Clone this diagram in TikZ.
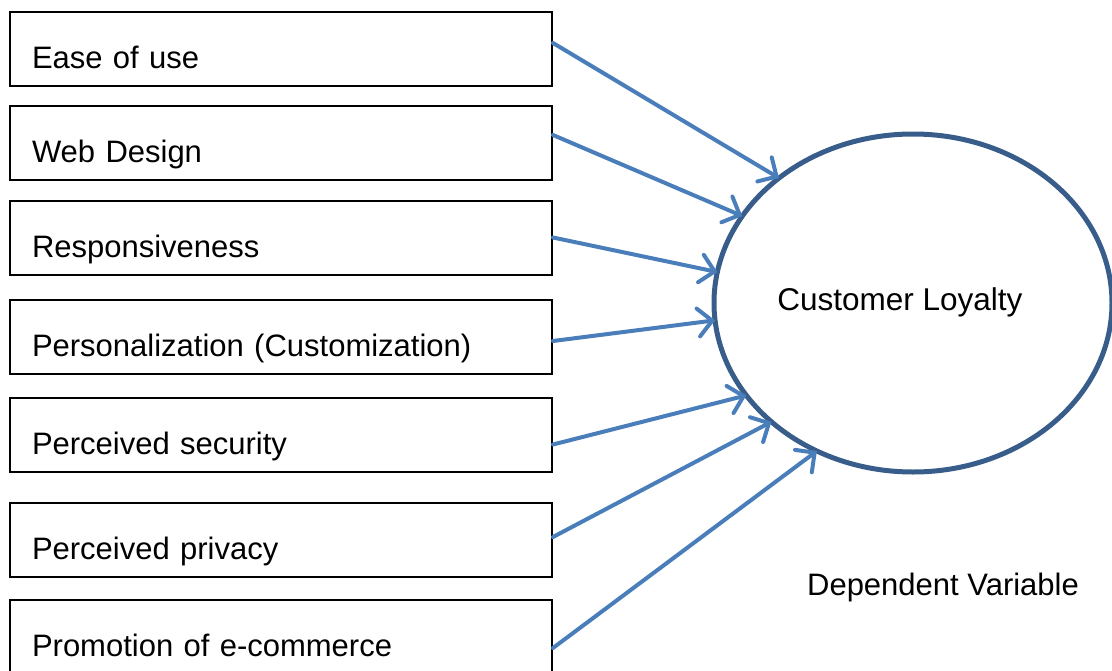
\documentclass[tikz,border=0pt]{standalone}
\usepackage{fontspec}
\setmainfont{Liberation Sans}
\usetikzlibrary{arrows.meta,shapes.geometric}
\definecolor{ringblue}{HTML}{385D8A}
\definecolor{arrowblue}{HTML}{4A7EBB}
\tikzset{
	factor/.style = {draw, line width = 2pt, rectangle, minimum width = 542pt, minimum height = 74pt,
		inner xsep = 22pt, inner ysep = 0pt, text width = 498pt, align = left,
		text height = 42pt, text depth = 3pt, font = \fontsize{31}{36}\selectfont},
	link/.style = {arrowblue, line width = 4pt, line cap = round,
		-{Straight Barb[length = 14pt, width = 28pt, line cap = round]}}
}
\begin{document}
\begin{tikzpicture}[x = 1pt, y = -1pt]
	\useasboundingbox (0,0) rectangle (1112,670);
	% independent factors
	\node[factor] (ease) at (281,49) {Ease of use};
	\node[factor] (web) at (281,143) {Web Design};
	\node[factor] (resp) at (281,237.5) {Responsiveness};
	\node[factor] (pers) at (281,336.5) {Personalization (Customization)};
	\node[factor] (secu) at (281,434.5) {Perceived security};
	\node[factor] (priv) at (281,540) {Perceived privacy};
	\node[factor] (promo) at (281,637) {Promotion of e-commerce};
	% dependent variable
	\node[ellipse, draw = ringblue, line width = 5pt, minimum width = 398pt, minimum height = 338pt,
		inner sep = 0pt, outer sep = 0pt] (loyal) at (913,303) {};
	\node[anchor = base, font = \fontsize{31.5}{36}\selectfont] (cltext) at (900,310) {Customer Loyalty};
	\node[anchor = base, font = \fontsize{31}{36}\selectfont] (dvtext) at (943,595) {Dependent Variable};
	% arrows
	\draw[link] ([yshift = 6pt]ease.east) -- (loyal.137.4);
	\draw[link] ([yshift = 8pt]web.east) -- (loyal.153.7);
	\draw[link] (resp.east) -- (loyal.171);
	\draw[link] ([yshift = -4.5pt]pers.east) -- (loyal.185.1);
	\draw[link] ([yshift = -10pt]secu.east) -- (loyal.209);
	\draw[link] ([yshift = 3pt]priv.east) -- (loyal.220.8);
	\draw[link] ([yshift = -11pt]promo.east) -- (loyal.237.7);
\end{tikzpicture}
\end{document}
